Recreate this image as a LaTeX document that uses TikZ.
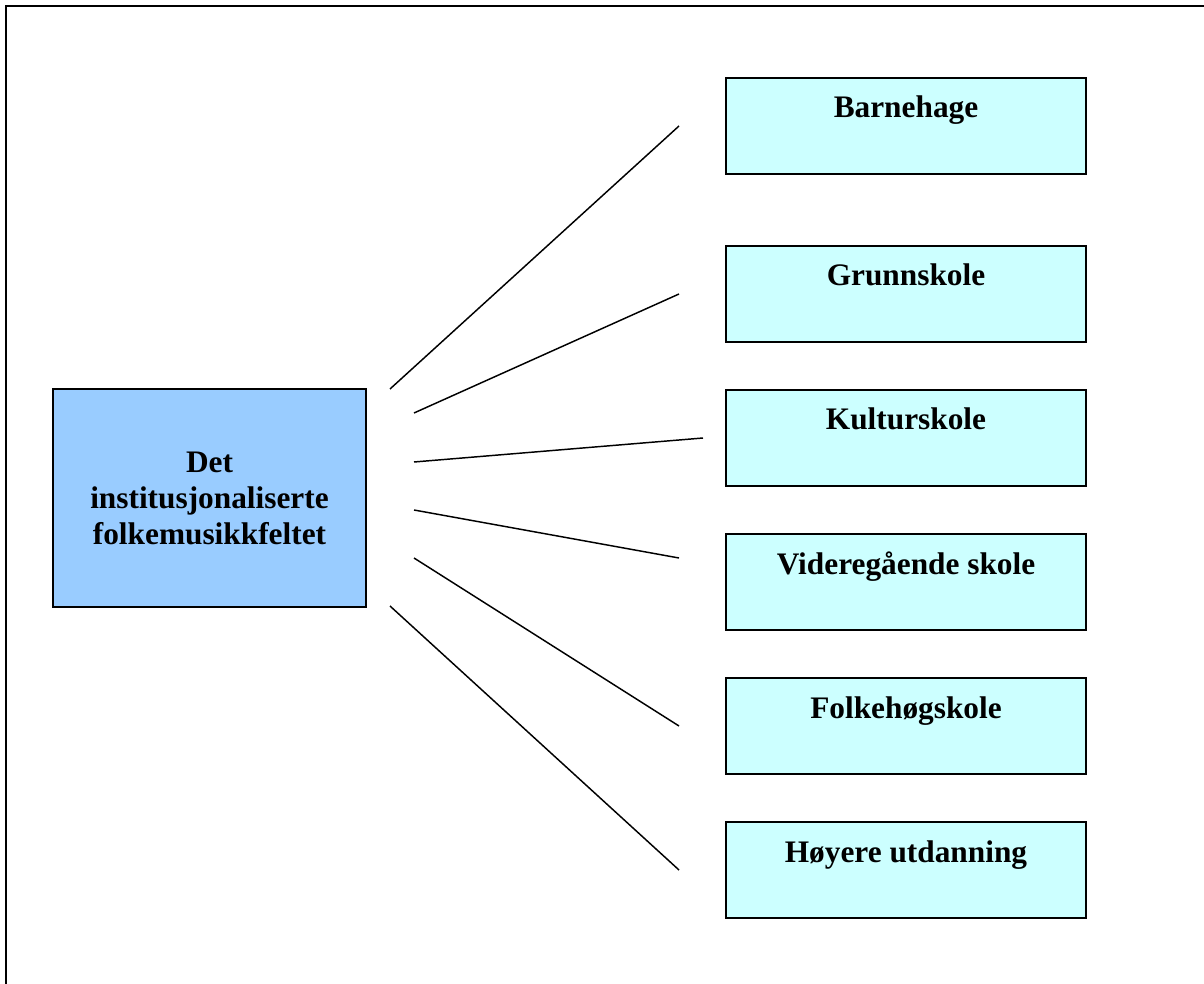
\documentclass[tikz,border=0pt]{standalone}
\usepackage{fontspec}
\setmainfont{Liberation Serif}
\usetikzlibrary{positioning}
\definecolor{RootBlue}{HTML}{99CCFF}
\definecolor{LeafCyan}{HTML}{CCFFFF}
\tikzset{
  % Caselle
  box/.style={draw=black,line width=1.1pt,inner sep=0pt,outer sep=0pt,
    font=\fontsize{23.5}{27}\selectfont\bfseries},
  box root/.style={box,fill=RootBlue,minimum width=234.75pt,minimum height=163.5pt,align=center},
  box leaf/.style={box,fill=LeafCyan,minimum width=270pt,text height=30pt,text depth=42pt},
  % Linee
  connect/.style={line width=1.1pt},
  frame/.style={line width=1.6pt}
}
\begin{document}
\begin{tikzpicture}[x=0.75pt,y=-0.75pt]
  \useasboundingbox (0,0) rectangle (1204,984);
  \draw[frame] (6,984) -- (6,6) -- (1204,6);
  \node[box root] (root) at (209.5,498) {Det\\institusjonaliserte\\folkemusikkfeltet};
  \node[box leaf] (barnehage) at (906,126) {Barnehage};
  \node[box leaf,below=54pt of barnehage] (grunnskole) {Grunnskole};
  \node[box leaf,below=36pt of grunnskole] (kulturskole) {Kulturskole};
  \node[box leaf,below=36pt of kulturskole] (videregaende) {Videregående skole};
  \node[box leaf,below=36pt of videregaende] (folkehogskole) {Folkehøgskole};
  \node[box leaf,below=36pt of folkehogskole] (hoyere) {Høyere utdanning};
  \foreach \i/\sx/\sy/\ex/\ey in {1/390/389/679/126, 2/414/413/679/294, 3/414/462/703/438,
      4/414/510/679/558, 5/414/558/679/726, 6/390/606/679/870} {
    \coordinate (s\i) at (\sx,\sy);
    \coordinate (e\i) at (\ex,\ey);
    \draw[connect] (s\i) -- (e\i);
  }
\end{tikzpicture}
\end{document}
